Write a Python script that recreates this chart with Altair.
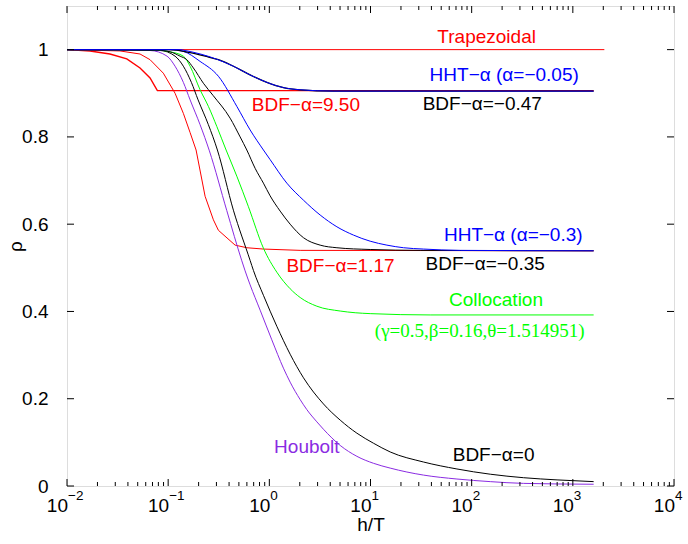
import altair as alt
import pandas as pd

# ---------------- data (h/T, rho) ----------------
trap_x = [0.01, 2049]
trap_y = [1.0, 1.0]

bdf950_x = [0.01, 0.0169, 0.0266, 0.039, 0.0527, 0.0662, 0.0782, 1606]
bdf950_y = [1.0, 0.997, 0.990, 0.979, 0.958, 0.935, 0.906, 0.906]

bdf117_x = [0.01, 0.0334, 0.0527, 0.0662, 0.0896, 0.117, 0.1413, 0.1647, 0.1888,
            0.2317, 0.28, 0.3137, 0.4588, 0.599, 0.8742, 2.017, 1606]
bdf117_y = [1.0, 0.997, 0.99, 0.977, 0.946, 0.9, 0.854, 0.81, 0.77,
            0.664, 0.61, 0.586, 0.552, 0.546, 0.543, 0.540, 0.539]

houbolt_x = [0.01, 0.0662, 0.0975, 0.117, 0.1413, 0.1647, 0.2068, 0.2556, 0.3798,
             0.5346, 0.5763, 0.6458, 0.811, 1.058, 1.379, 1.606, 2.017, 2.349, 2.95,
             3.429, 5.016, 7.337, 10.71, 15.66, 33.4, 71.5, 152.8, 326, 1606]
houbolt_y = [1.0, 0.998, 0.985, 0.962, 0.925, 0.885, 0.828, 0.768, 0.631,
             0.516, 0.493, 0.461, 0.403, 0.335, 0.270, 0.238, 0.198, 0.175, 0.147,
             0.130, 0.093, 0.068, 0.052, 0.041, 0.025, 0.016, 0.010, 0.006, 0.004]

bdf0_x = [0.01, 0.0832, 0.117, 0.1413, 0.1696, 0.1975, 0.2498, 0.3066, 0.4414,
          0.6458, 0.6963, 0.8742, 1.186, 1.606, 2.175, 3.429, 5.016, 7.337, 10.71,
          15.66, 33.4, 71.5, 152.8, 326, 698, 1606]
bdf0_y = [1.0, 0.998, 0.985, 0.962, 0.925, 0.885, 0.828, 0.770, 0.632,
          0.517, 0.494, 0.437, 0.366, 0.302, 0.248, 0.188, 0.151, 0.121, 0.098,
          0.078, 0.055, 0.039, 0.027, 0.019, 0.014, 0.010]

coll_x = [0.01, 0.0662, 0.1044, 0.1413, 0.1647, 0.2068, 0.2498, 0.3025, 0.3738,
          0.477, 0.6213, 0.8742, 1.186, 1.606, 2.017, 2.95, 5.016, 9.93, 38.9, 1606]
coll_y = [1.0, 1.0, 0.995, 0.985, 0.962, 0.908, 0.870, 0.824, 0.770,
          0.710, 0.640, 0.545, 0.490, 0.452, 0.432, 0.412, 0.401, 0.395, 0.392, 0.392]

bdf035_x = [0.01, 0.0662, 0.1044, 0.1312, 0.1528, 0.1775, 0.223, 0.278, 0.4095,
            0.5144, 0.599, 0.7238, 0.8742, 1.018, 1.279, 1.606, 2.175, 3.18, 4.654,
            9.93, 31.0, 1606]
bdf035_y = [1.0, 1.0, 0.995, 0.985, 0.977, 0.958, 0.923, 0.895, 0.843,
            0.800, 0.770, 0.728, 0.694, 0.665, 0.630, 0.600, 0.569, 0.552, 0.546,
            0.542, 0.540, 0.539]

hht03_x = [0.01, 0.1044, 0.1413, 0.2068, 0.3137, 0.477, 0.6458, 0.8742, 1.018,
           1.49, 2.175, 3.18, 4.654, 6.788, 9.93, 14.53, 21.21, 33.4, 77.1, 1606]
hht03_y = [1.0, 1.0, 0.996, 0.973, 0.939, 0.870, 0.816, 0.770, 0.748,
           0.694, 0.655, 0.621, 0.594, 0.575, 0.561, 0.552, 0.546, 0.543, 0.540, 0.539]

bdf047_x = [0.01, 0.1044, 0.1647, 0.2317, 0.3137, 0.4414, 0.6458, 0.9447, 1.379,
            2.017, 4.305, 1606]
bdf047_y = [1.0, 1.0, 0.993, 0.985, 0.977, 0.962, 0.942, 0.925, 0.913,
            0.908, 0.905, 0.905]

hht005_x = [0.01, 0.1312, 0.1469, 0.3025, 0.4414, 0.6458, 0.9447, 1.379, 2.017,
            4.305, 1606]
hht005_y = [1.0, 1.0, 0.998, 0.978, 0.962, 0.942, 0.925, 0.913, 0.908,
            0.905, 0.905]

# curve labels
label_text = ["Trapezoidal", "HHT\u2212\u03b1 (\u03b1=\u22120.05)", "BDF\u2212\u03b1=9.50",
              "BDF\u2212\u03b1=\u22120.47", "HHT\u2212\u03b1 (\u03b1=\u22120.3)", "BDF\u2212\u03b1=1.17",
              "BDF\u2212\u03b1=\u22120.35", "Collocation", "Houbolt", "BDF\u2212\u03b1=0"]
label_x = [140.6, 209.7, 2.30, 127.4, 257.8, 5.05, 136.0, 174.0, 2.35, 164.7]
label_y = [1.029, 0.941, 0.872, 0.876, 0.576, 0.505, 0.509, 0.427, 0.090, 0.071]
label_color = ["#ff0000", "#0000ff", "#ff0000", "#000000", "#0000ff", "#ff0000",
               "#000000", "#00ff00", "#8a2be2", "#000000"]
serif_text = ["(\u03b3=0.5,\u03b2=0.16,\u03b8=1.514951)"]
serif_x = [120.0]
serif_y = [0.356]

# axis ticks
x_major = [0.01, 0.1, 1, 10, 100, 1000, 10000]
x_exp = ["\u22122", "\u22121", "0", "1", "2", "3", "4"]
x_minor = [m * d for d in [0.01, 0.1, 1, 10, 100, 1000] for m in range(2, 10)]
y_ticks = [0, 0.2, 0.4, 0.6, 0.8, 1.0]

# ---------------- chart ----------------
W, H = 607, 480
FONT = "Liberation Sans"
FS = 19
xscale = alt.Scale(type="log", domain=[0.01, 10000], nice=False)
yscale = alt.Scale(domain=[0, 1.1], nice=False, zero=False)


def X():
    return alt.X("x:Q", scale=xscale,
                 axis=alt.Axis(labels=False, ticks=False, domain=False, grid=False,
                               title="h/T", titleFont=FONT, titleFontSize=FS,
                               titleFontWeight="normal", titleColor="black",
                               titleY=44, titleBaseline="alphabetic"))


def Y():
    return alt.Y("y:Q", scale=yscale,
                 axis=alt.Axis(values=y_ticks, format="~g", ticks=False, domain=False,
                               grid=False, labelFont=FONT, labelFontSize=FS,
                               labelColor="black", labelPadding=19,
                               title="\u03c1", titleFont=FONT, titleFontSize=FS,
                               titleFontWeight="normal", titleColor="black",
                               titleAngle=270, titleX=-46, titleY=240,
                               titleAlign="center", titleBaseline="alphabetic"))


def line(xs, ys, color, width=1.0, interp="monotone"):
    df = pd.DataFrame({"x": xs, "y": ys})
    return alt.Chart(df).mark_line(color=color, strokeWidth=width,
                                   interpolate=interp, clip=True).encode(x=X(), y=Y())


layers = [
    line(trap_x, trap_y, "#ff0000", 1.0, "linear"),
    line(bdf950_x, bdf950_y, "#ff0000", 1.4, "linear"),
    line(bdf117_x, bdf117_y, "#ff0000", 1.0, "linear"),
    line(houbolt_x, houbolt_y, "#8a2be2"),
    line(bdf0_x, bdf0_y, "#000000"),
    line(coll_x, coll_y, "#00ff00"),
    line(bdf035_x, bdf035_y, "#000000"),
    line(hht03_x, hht03_y, "#0000ff"),
    line(bdf047_x, bdf047_y, "#000000", 1.3),
    line(hht005_x, hht005_y, "#0000ff", 1.0),
]

lab_df = pd.DataFrame({"x": label_x, "y": label_y, "t": label_text, "c": label_color})
labels = alt.Chart(lab_df).mark_text(font=FONT, fontSize=FS, align="center",
                                     baseline="middle").encode(
    x=X(), y=Y(), text="t:N", color=alt.Color("c:N", scale=None))

ser_df = pd.DataFrame({"x": serif_x, "y": serif_y, "t": serif_text})
serif = alt.Chart(ser_df).mark_text(font="Liberation Serif", fontSize=FS, align="center",
                                    baseline="middle", color="#00ff00").encode(
    x=X(), y=Y(), text="t:N")

# tick marks (inside, MATLAB style)
xm_df = pd.DataFrame({"x": x_major, "e": x_exp})
xn_df = pd.DataFrame({"x": x_minor})
yt_df = pd.DataFrame({"y": y_ticks})

ticks = [
    alt.Chart(xm_df).mark_rule(color="black", strokeWidth=1).encode(
        x=X(), y=alt.value(H), y2=alt.value(H - 7)),
    alt.Chart(xm_df).mark_rule(color="black", strokeWidth=1).encode(
        x=X(), y=alt.value(0), y2=alt.value(7)),
    alt.Chart(xn_df).mark_rule(color="black", strokeWidth=1).encode(
        x=X(), y=alt.value(H), y2=alt.value(H - 4)),
    alt.Chart(xn_df).mark_rule(color="black", strokeWidth=1).encode(
        x=X(), y=alt.value(0), y2=alt.value(4)),
    alt.Chart(yt_df).mark_rule(color="black", strokeWidth=1).encode(
        y=Y(), x=alt.value(0), x2=alt.value(7)),
    alt.Chart(yt_df).mark_rule(color="black", strokeWidth=1).encode(
        y=Y(), x=alt.value(W), x2=alt.value(W - 7)),
]

base10 = alt.Chart(xm_df).mark_text(font=FONT, fontSize=FS, align="right", dx=1,
                                    baseline="alphabetic", color="black").encode(
    x=X(), y=alt.value(H + 26), text=alt.value("10"))
expo = alt.Chart(xm_df).mark_text(font=FONT, fontSize=13.5, align="left", dx=1,
                                  baseline="alphabetic", color="black").encode(
    x=X(), y=alt.value(H + 14), text="e:N")

chart = alt.layer(*layers, *ticks, labels, serif, base10, expo).properties(
    width=W, height=H,
    autosize=alt.AutoSizeParams(type="none"),
    padding={"left": 67, "top": 6, "right": 14, "bottom": 58},
).configure_view(stroke="black", strokeWidth=1).configure(background="white")

chart.save("out.html", embed_options={"renderer": "svg", "actions": False})
